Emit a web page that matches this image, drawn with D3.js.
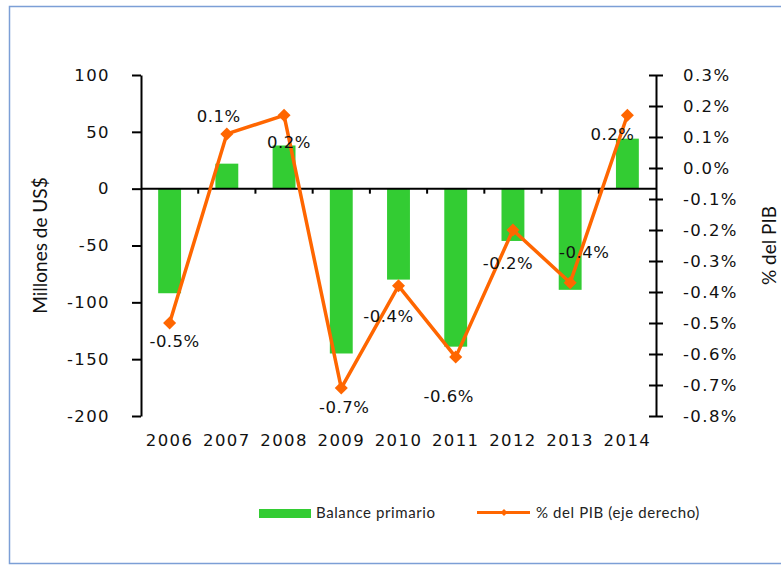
<!DOCTYPE html>
<html>
<head>
<meta charset="utf-8">
<script src="https://cdn.jsdelivr.net/npm/d3@7"></script>
<style>
    body { margin: 0; background: #fff; }
    svg { display: block; }
    .tick text { font-family: "DejaVu Sans", Verdana, sans-serif; font-size: 16.5px; fill: #111; letter-spacing: 1.4px; }
    .axis path, .axis line { stroke: #000; stroke-width: 2px; }
    .title { font-family: Lato, sans-serif; font-size: 19px; fill: #111; }
    .legend text { font-family: Lato, sans-serif; font-size: 15px; fill: #222; letter-spacing: 0.6px; }
    .label { font-family: "DejaVu Sans", Verdana, sans-serif; font-size: 16.5px; fill: #111; letter-spacing: 0.5px; }
</style>
</head>
<body>
<svg id="chart" width="781" height="566"></svg>
<script>
// Data
const years = ['2006', '2007', '2008', '2009', '2010', '2011', '2012', '2013', '2014'];
const balance = [-92, 22, 38, -145, -80, -139, -46, -89, 44];          // Millones de US$
const pctPib = [-0.50, 0.11, 0.17, -0.71, -0.38, -0.61, -0.20, -0.37, 0.17]; // % del PIB
const leftTicks = [-200, -150, -100, -50, 0, 50, 100];
const rightTicks = [-0.8, -0.7, -0.6, -0.5, -0.4, -0.3, -0.2, -0.1, 0.0, 0.1, 0.2, 0.3];

// where each data label sits relative to its point (dx, dy)
const labelOffsets = [[5, 18], [-8, -18], [5, 27], [3, 19], [-10, 30], [-7, 39], [-5, 33], [14, -31], [-15, 19]];

const green = '#33cc33';
const orange = '#ff6600';

const svg = d3.select('#chart');

// Outer frame
svg.append('rect')
    .attr('x', 9.5).attr('y', 6.5)
    .attr('width', 800).attr('height', 557)
    .attr('fill', 'none')
    .attr('stroke', '#7c9fd6')
    .attr('stroke-width', 1.5);

const plotLeft = 141, plotRight = 656, plotTop = 75, plotBottom = 416;

const x = d3.scaleBand()
    .domain(years)
    .range([plotLeft, plotRight])
    .paddingInner(0.6)
    .paddingOuter(0.3);

const yL = d3.scaleLinear().domain([-200, 100]).range([plotBottom, plotTop]);
const yR = d3.scaleLinear().domain([-0.8, 0.3]).range([plotBottom, plotTop]);

// Bars
svg.append('g')
    .selectAll('rect')
    .data(balance)
    .join('rect')
    .attr('x', (d, i) => x(years[i]))
    .attr('width', x.bandwidth())
    .attr('y', d => Math.min(yL(d), yL(0)))
    .attr('height', d => Math.abs(yL(d) - yL(0)))
    .attr('fill', green);

// Category axis along zero
const zeroY = yL(0);
const cat = svg.append('g').attr('class', 'axis');
cat.append('line')
    .attr('x1', plotLeft).attr('x2', plotRight)
    .attr('y1', zeroY).attr('y2', zeroY);
cat.selectAll('line.ctick')
    .data(years.slice(1))
    .join('line')
    .attr('class', 'ctick')
    .attr('x1', d => x(d) + x.bandwidth() / 2 - x.step() / 2)
    .attr('x2', d => x(d) + x.bandwidth() / 2 - x.step() / 2)
    .attr('y1', zeroY).attr('y2', zeroY + 5);

// Year labels below the plot
svg.append('g')
    .attr('transform', `translate(0,${plotBottom})`)
    .call(d3.axisBottom(x).tickSize(0).tickPadding(18))
    .call(g => g.select('.domain').remove());

// Left axis (plain hyphen for negatives, like the original)
svg.append('g')
    .attr('class', 'axis')
    .attr('transform', `translate(${plotLeft},0)`)
    .call(d3.axisLeft(yL).tickValues(leftTicks).tickSize(9).tickSizeOuter(0).tickPadding(22)
        .tickFormat(d => String(d)));

// Right axis (ticks cross the line)
svg.append('g')
    .attr('class', 'axis')
    .attr('transform', `translate(${plotRight},0)`)
    .call(d3.axisRight(yR).tickValues(rightTicks).tickSize(7).tickSizeOuter(0).tickPadding(20)
        .tickFormat(d => d.toFixed(1) + '%'))
    .call(g => g.selectAll('.tick line').attr('x1', -7));

// Line + markers
const cx = i => x(years[i]) + x.bandwidth() / 2;
const line = d3.line()
    .x((d, i) => cx(i))
    .y(d => yR(d));

svg.append('path')
    .datum(pctPib)
    .attr('d', line)
    .attr('fill', 'none')
    .attr('stroke', orange)
    .attr('stroke-width', 3.5)
    .attr('stroke-linejoin', 'round');

svg.append('g')
    .selectAll('path')
    .data(pctPib)
    .join('path')
    .attr('d', d3.symbol(d3.symbolSquare, 85))
    .attr('transform', (d, i) => `translate(${cx(i)},${yR(d)}) rotate(45)`)
    .attr('fill', orange);

// Data labels
svg.append('g')
    .selectAll('text')
    .data(pctPib)
    .join('text')
    .attr('class', 'label')
    .attr('x', (d, i) => cx(i) + labelOffsets[i][0])
    .attr('y', (d, i) => yR(d) + labelOffsets[i][1])
    .attr('dy', '0.36em')
    .attr('text-anchor', 'middle')
    .text(d => d.toFixed(1) + '%');

// Axis titles
svg.append('text')
    .attr('class', 'title')
    .attr('transform', `translate(40,${(plotTop + plotBottom) / 2}) rotate(-90)`)
    .attr('text-anchor', 'middle')
    .attr('dy', '0.35em')
    .text('Millones de US$');

svg.append('text')
    .attr('class', 'title')
    .attr('transform', `translate(769,${(plotTop + plotBottom) / 2}) rotate(-90)`)
    .attr('text-anchor', 'middle')
    .attr('dy', '0.35em')
    .text('% del PIB');

// Legend
const legend = svg.append('g').attr('class', 'legend');
legend.append('rect')
    .attr('x', 259).attr('y', 509)
    .attr('width', 52).attr('height', 9)
    .attr('fill', green);
legend.append('text')
    .attr('x', 316).attr('y', 518)
    .text('Balance primario');

legend.append('line')
    .attr('x1', 477).attr('x2', 530)
    .attr('y1', 512.5).attr('y2', 512.5)
    .attr('stroke', orange)
    .attr('stroke-width', 3);
legend.append('path')
    .attr('d', d3.symbol(d3.symbolSquare, 25))
    .attr('transform', 'translate(504,512.5) rotate(45)')
    .attr('fill', orange);
legend.append('text')
    .attr('x', 536).attr('y', 518)
    .text('% del PIB (eje derecho)');
</script>
</body>
</html>
